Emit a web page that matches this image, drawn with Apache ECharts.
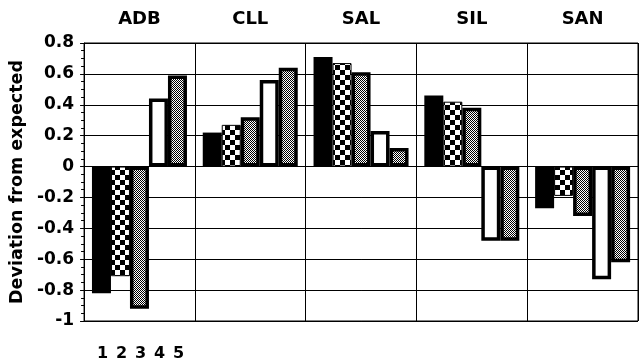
<!DOCTYPE html>
<html><head><meta charset="utf-8">
<script src="https://cdn.jsdelivr.net/npm/echarts@6/dist/echarts.min.js"></script>
<style>html,body{margin:0;padding:0;background:#fff}#c{width:639px;height:364px}</style>
</head><body><div id="c"></div>
<script>
var categories = ['ADB', 'CLL', 'SAL', 'SIL', 'SAN'];
var barLabels = ['1', '2', '3', '4', '5'];
var s1 = [-0.82, 0.22, 0.71, 0.46, -0.27];
var s2 = [-0.71, 0.27, 0.67, 0.42, -0.19];
var s3 = [-0.92, 0.32, 0.61, 0.38, -0.32];
var s4 = [0.44, 0.56, 0.23, -0.48, -0.73];
var s5 = [0.59, 0.64, 0.12, -0.48, -0.62];
var yTicks = [-1, -0.8, -0.6, -0.4, -0.2, 0, 0.2, 0.4, 0.6, 0.8];

function makePattern(size, cell) {
  var c = document.createElement('canvas');
  c.width = size; c.height = size;
  var ctx = c.getContext('2d');
  ctx.fillStyle = '#fff'; ctx.fillRect(0, 0, size, size);
  ctx.fillStyle = '#000';
  for (var y = 0; y < size; y += cell) for (var x = 0; x < size; x += cell)
    if (((x / cell) + (y / cell)) % 2 === 0) ctx.fillRect(x, y, cell, cell);
  return { image: c, repeat: 'repeat' };
}
var checker = makePattern(10, 5);
var fine = makePattern(2, 1);

var font = 'DejaVu Sans';
var chart = echarts.init(document.getElementById('c'), null, { renderer: 'canvas' });
function bar(name, data, color, bw) {
  return {
    name: name, type: 'bar', data: data, barWidth: 19, barGap: '0%',
    itemStyle: { color: color, borderColor: '#000', borderWidth: bw },
    animation: false
  };
}
chart.setOption({
  animation: false,
  grid: [
    { left: 84, right: 1, top: 43, bottom: 43, show: true, borderColor: '#000', borderWidth: 1 },
    { left: 93, width: 95, top: 345, height: 1 }
  ],
  xAxis: [
    { type: 'category', data: categories, position: 'top', gridIndex: 0,
      axisLine: { show: false }, axisTick: { show: false },
      splitLine: { show: true, lineStyle: { color: '#000', width: 1 } },
      axisLabel: { margin: 15, color: '#000', fontFamily: font, fontWeight: 'bold', fontSize: 18 } },
    { type: 'category', data: barLabels, gridIndex: 1, position: 'bottom',
      axisLine: { show: false }, axisTick: { show: false }, splitLine: { show: false },
      axisLabel: { margin: 0, color: '#000', fontFamily: font, fontWeight: 'bold', fontSize: 16 } }
  ],
  yAxis: [
    { type: 'value', min: yTicks[0], max: yTicks[yTicks.length - 1], interval: 0.2, gridIndex: 0,
      name: 'Deviation from expected', nameLocation: 'middle', nameGap: 52,
      nameTextStyle: { color: '#000', fontFamily: font, fontWeight: 'bold', fontSize: 17.5 },
      axisLine: { show: true, lineStyle: { color: '#000', width: 1 } },
      axisTick: { show: true, length: 4, lineStyle: { color: '#000' } },
      minorTick: { show: true, splitNumber: 4, length: 3, lineStyle: { color: '#000' } },
      splitLine: { show: true, lineStyle: { color: '#000', width: 1 } },
      axisLabel: { margin: 10, color: '#000', fontFamily: font, fontWeight: 'bold', fontSize: 17,
        formatter: function (v) { return String(Math.round(v * 10) / 10); } } },
    { type: 'value', gridIndex: 1, show: false }
  ],
  series: [
    bar('1', s1, '#000', 0),
    bar('2', s2, checker, 1),
    bar('3', s3, fine, 3.5),
    bar('4', s4, '#fff', 3.5),
    bar('5', s5, fine, 3.5),
    { type: 'bar', xAxisIndex: 1, yAxisIndex: 1, data: [] }
  ]
});
</script></body></html>
